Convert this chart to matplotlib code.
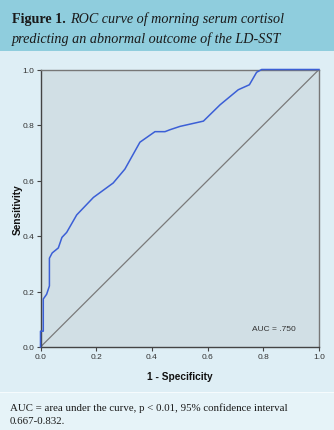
import matplotlib.pyplot as plt
from matplotlib.patches import Rectangle

# ===================== DONNÉES =====================
fpr = [0.0, 0.0, 0.01, 0.01, 0.022, 0.032, 0.032, 0.042, 0.064, 0.077, 0.094,
       0.13, 0.19, 0.261, 0.303, 0.357, 0.411, 0.447, 0.465, 0.501, 0.585,
       0.645, 0.71, 0.75, 0.776, 0.794, 1.0]
tpr = [0.0, 0.057, 0.057, 0.173, 0.19, 0.22, 0.32, 0.339, 0.357, 0.395, 0.413,
       0.476, 0.539, 0.591, 0.641, 0.738, 0.776, 0.776, 0.783, 0.795, 0.814,
       0.873, 0.927, 0.945, 0.99, 1.0, 1.0]
ticks = [0.0, 0.2, 0.4, 0.6, 0.8, 1.0]
auc_label = "AUC = .750"

# ===================== CONFIG =====================
W, H = 334, 431
fig = plt.figure(figsize=(W / 100, H / 100), dpi=100)
fig.patch.set_facecolor('#deeef5')

# bandeaux
fig.patches.append(Rectangle((0, 1 - 52 / H), 1, 52 / H, transform=fig.transFigure,
                             facecolor='#8fcddd', edgecolor='none', zorder=0))
fig.patches.append(Rectangle((0, 0), 1, 37 / H, transform=fig.transFigure,
                             facecolor='#e6f3f8', edgecolor='none', zorder=0))
fig.patches.append(Rectangle((0, 37 / H), 1, 1.5 / H, transform=fig.transFigure,
                             facecolor='#f6fbfd', edgecolor='none', zorder=0))

# titre
t1 = fig.text(12 / W, 1 - 23 / H, "Figure 1.", family='Liberation Serif', fontsize=10.2,
              fontweight='bold', color='#1a1a1a')
fig.canvas.draw()
bb = t1.get_window_extent(renderer=fig.canvas.get_renderer())
fig.text((bb.x1 + 4) / W, 1 - 23 / H, "ROC curve of morning serum cortisol",
         family='Liberation Serif', fontsize=10.2, style='italic', color='#1a1a1a')
fig.text(12 / W, 1 - 43 / H, "predicting an abnormal outcome of the LD-SST",
         family='Liberation Serif', fontsize=10.2, style='italic', color='#1a1a1a')

# légende du bas
fig.text(10 / W, 1 - 411 / H, "AUC = area under the curve, p < 0.01, 95% confidence interval",
         family='Liberation Serif', fontsize=7.8, color='#1a1a1a')
fig.text(10 / W, 1 - 424 / H, "0.667-0.832.",
         family='Liberation Serif', fontsize=7.8, color='#1a1a1a')

# ===================== GRAPHIQUE =====================
ax = fig.add_axes([40.5 / W, 1 - 348 / H, 278.5 / W, 277.5 / H])
ax.set_facecolor('#d1dfe5')

ax.plot([0, 1], [0, 1], color='#7a7a7a', lw=0.9)
ax.plot(fpr, tpr, color='#3b5fd6', lw=1.1, zorder=5, clip_on=False)

ax.set_xlim(0, 1)
ax.set_ylim(0, 1)
ax.set_xticks(ticks)
ax.set_yticks(ticks)
ax.set_xticklabels([f"{t:.1f}" for t in ticks])
ax.set_yticklabels([f"{t:.1f}" for t in ticks])
ax.tick_params(direction='out', length=3, width=0.8, labelsize=6,
               colors='#444444', labelcolor='#333333', pad=1.5)
for lab in ax.get_xticklabels() + ax.get_yticklabels():
    lab.set_family('Liberation Sans')

for side in ['left', 'bottom']:
    ax.spines[side].set_color('#444444')
    ax.spines[side].set_linewidth(1.0)
for side in ['top', 'right']:
    ax.spines[side].set_color('#777777')
    ax.spines[side].set_linewidth(1.0)

ax.text(0.917, 0.065, auc_label, ha='right', va='center', fontsize=6,
        family='Liberation Sans', color='#333333')

fig.text(180 / W, 1 - 377 / H, "1 - Specificity", ha='center', va='center',
         family='Liberation Sans', fontweight='bold', fontsize=7.3, color='#111111')
fig.text(18 / W, 1 - 210 / H, "Sensitivity", ha='center', va='center', rotation=90,
         family='Liberation Sans', fontweight='bold', fontsize=7.3, color='#111111')

plt.savefig("out.png", dpi=100, facecolor=fig.get_facecolor())
plt.close()
